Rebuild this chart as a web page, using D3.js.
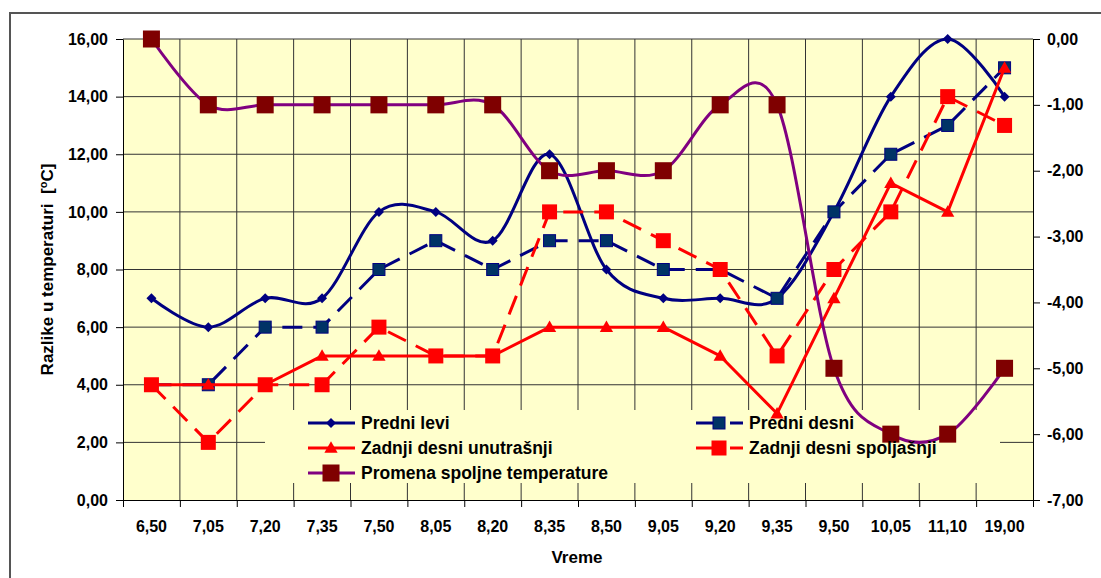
<!DOCTYPE html>
<html>
<head>
<meta charset="utf-8">
<script src="https://cdn.jsdelivr.net/npm/d3@7"></script>
<style>
  body { margin: 0; background: #fff; }
  svg { display: block; font-family: "Liberation Sans", Arial, sans-serif; }
  .axis text { font-size: 16px; font-weight: bold; fill: #000; }
  .axis path, .axis line { stroke: #000; }
</style>
</head>
<body>
<div id="chart"></div>
<script>
// Data
const categories = ["6,50", "7,05", "7,20", "7,35", "7,50", "8,05", "8,20", "8,35",
  "8,50", "9,05", "9,20", "9,35", "9,50", "10,05", "11,10", "19,00"];
const prednjiLevi = [7, 6, 7, 7, 10, 10, 9, 12, 8, 7, 7, 7, 10, 14, 16, 14];
const prednjiDesni = [4, 4, 6, 6, 8, 9, 8, 9, 9, 8, 8, 7, 10, 12, 13, 15];
const zadnjiUnutrasnji = [4, 4, 4, 5, 5, 5, 5, 6, 6, 6, 5, 3, 7, 11, 10, 15];
const zadnjiSpoljasnji = [4, 2, 4, 4, 6, 5, 5, 10, 10, 9, 8, 5, 8, 10, 14, 13];
const promenaSpoljne = [0, -1, -1, -1, -1, -1, -1, -2, -2, -2, -1, -1, -5, -6, -6, -5];
const leftTicks = [0, 2, 4, 6, 8, 10, 12, 14, 16];
const rightTicks = [-7, -6, -5, -4, -3, -2, -1, 0];

const seriesNames = ["Predni levi", "Predni desni", "Zadnji desni unutrašnji",
  "Zadnji desni spoljašnji", "Promena spoljne temperature"];

const width = 1101, height = 578;
const plot = { left: 123, right: 1033, top: 39, bottom: 500 };

const fmt = (d) => d.toFixed(2).replace(".", ",");

const svg = d3.select("#chart").append("svg")
  .attr("width", width)
  .attr("height", height);

// outer chart frame
svg.append("rect")
  .attr("x", 10).attr("y", 13)
  .attr("width", 1110).attr("height", 600)
  .attr("fill", "none")
  .attr("stroke", "#555")
  .attr("stroke-width", 2);

// scales
const x = d3.scaleBand().domain(categories).range([plot.left, plot.right]).padding(0);
const xb = d3.scaleLinear().domain([0, categories.length]).range([plot.left, plot.right]);
const yL = d3.scaleLinear().domain([0, 16]).range([plot.bottom, plot.top]);
const yR = d3.scaleLinear().domain([-7, 0]).range([plot.bottom, plot.top]);
const cx = (i) => x(categories[i]) + x.bandwidth() / 2;

// plot background
svg.append("rect")
  .attr("x", plot.left).attr("y", plot.top)
  .attr("width", plot.right - plot.left)
  .attr("height", plot.bottom - plot.top)
  .attr("fill", "#FFFFCC");

// gridlines
const grid = svg.append("g").attr("stroke", "#333").attr("stroke-width", 1);
grid.selectAll(".hg").data(leftTicks.slice(1)).enter().append("line")
  .attr("x1", plot.left).attr("x2", plot.right)
  .attr("y1", (d) => yL(d)).attr("y2", (d) => yL(d));
grid.selectAll(".vg").data(d3.range(1, categories.length)).enter().append("line")
  .attr("x1", (d) => xb(d)).attr("x2", (d) => xb(d))
  .attr("y1", plot.top).attr("y2", plot.bottom);

// legend box (hides gridlines, series drawn over it)
const legendBox = { x: 265, y: 410, w: 735, h: 73 };
svg.append("rect")
  .attr("x", legendBox.x).attr("y", legendBox.y)
  .attr("width", legendBox.w).attr("height", legendBox.h)
  .attr("fill", "#FFFFCC");

// axes
svg.append("g").attr("class", "axis")
  .attr("transform", `translate(${plot.left},0)`)
  .call(d3.axisLeft(yL).tickValues(leftTicks).tickFormat(fmt).tickSizeInner(7).tickSizeOuter(0).tickPadding(8));

svg.append("g").attr("class", "axis")
  .attr("transform", `translate(${plot.right},0)`)
  .call(d3.axisRight(yR).tickValues(rightTicks).tickFormat(fmt).tickSizeInner(7).tickSizeOuter(0).tickPadding(7));

svg.append("g").attr("class", "axis")
  .attr("transform", `translate(0,${plot.bottom})`)
  .call(d3.axisBottom(xb).tickValues(d3.range(0, categories.length + 1)).tickFormat("").tickSizeInner(7).tickSizeOuter(0));

const xLabels = svg.append("g").attr("class", "axis")
  .attr("transform", `translate(0,${plot.bottom})`)
  .call(d3.axisBottom(x).tickSize(0).tickPadding(21));
xLabels.select(".domain").remove();

// axis titles
svg.append("text")
  .attr("x", (plot.left + plot.right) / 2 - 1)
  .attr("y", 563)
  .attr("text-anchor", "middle")
  .style("font-size", "17px")
  .style("font-weight", "bold")
  .text("Vreme");

const yTitle = svg.append("text")
  .attr("transform", `translate(53,${(plot.top + plot.bottom) / 2}) rotate(-90)`)
  .attr("text-anchor", "middle")
  .style("font-size", "17px")
  .style("font-weight", "bold");
yTitle.append("tspan").text("Razlike u temperaturi \u00A0[");
yTitle.append("tspan").attr("dy", -6).style("font-size", "11px").text("o");
yTitle.append("tspan").attr("dy", 6).text("C]");

// marker helpers
function drawMarker(g, type, px, py, size, fill, stroke) {
  if (type === "diamond") {
    const r = size / 2;
    g.append("path")
      .attr("d", `M${px},${py - r}L${px + r},${py}L${px},${py + r}L${px - r},${py}Z`)
      .attr("fill", fill);
  } else if (type === "triangle") {
    g.append("path")
      .attr("transform", `translate(${px},${py + 1})`)
      .attr("d", d3.symbol().type(d3.symbolTriangle).size(size * size * 0.45)())
      .attr("fill", fill);
  } else {
    g.append("rect")
      .attr("x", px - size / 2).attr("y", py - size / 2)
      .attr("width", size).attr("height", size)
      .attr("fill", fill)
      .attr("stroke", stroke || "none")
      .attr("stroke-width", stroke ? 1 : 0);
  }
}

const series = [
  { name: seriesNames[0], values: prednjiLevi, y: yL, color: "#000080", dash: null, smooth: true,
    marker: "diamond", msize: 10, mfill: "#000080" },
  { name: seriesNames[1], values: prednjiDesni, y: yL, color: "#000080", dash: "20,11", smooth: false,
    marker: "square", msize: 12, mfill: "#003366", mstroke: "#000080" },
  { name: seriesNames[2], values: zadnjiUnutrasnji, y: yL, color: "#FF0000", dash: null, smooth: false,
    marker: "triangle", msize: 13, mfill: "#FF0000" },
  { name: seriesNames[3], values: zadnjiSpoljasnji, y: yL, color: "#FF0000", dash: "20,11", smooth: false,
    marker: "square", msize: 15, mfill: "#FF0000" },
  { name: seriesNames[4], values: promenaSpoljne, y: yR, color: "#800080", dash: null, smooth: true,
    marker: "square", msize: 17, mfill: "#7F0000" },
];

series.forEach((s) => {
  const g = svg.append("g");
  const line = d3.line()
    .x((d, i) => cx(i))
    .y((d) => s.y(d))
    .curve(s.smooth ? d3.curveCatmullRom.alpha(0) : d3.curveLinear);
  g.append("path")
    .datum(s.values)
    .attr("d", line)
    .attr("fill", "none")
    .attr("stroke", s.color)
    .attr("stroke-width", 3)
    .attr("stroke-dasharray", s.dash)
    .attr("stroke-linejoin", "round");
  s.values.forEach((v, i) => drawMarker(g, s.marker, cx(i), s.y(v), s.msize, s.mfill, s.mstroke));
});

// legend entries: two columns, filled row by row
const legendPos = [
  { x: 308, y: 423 }, { x: 696, y: 423 },
  { x: 308, y: 448 }, { x: 696, y: 448 },
  { x: 308, y: 473 },
];
series.forEach((s, i) => {
  const p = legendPos[i];
  const g = svg.append("g");
  g.append("line")
    .attr("x1", p.x).attr("x2", p.x + 47)
    .attr("y1", p.y).attr("y2", p.y)
    .attr("stroke", s.color)
    .attr("stroke-width", 3)
    .attr("stroke-dasharray", s.dash ? "24,10" : null);
  drawMarker(g, s.marker, p.x + 23, p.y, s.msize, s.mfill, s.mstroke);
  g.append("text")
    .attr("x", p.x + 53)
    .attr("y", p.y + 6)
    .style("font-size", "17.5px")
    .style("font-weight", "bold")
    .text(s.name);
});
</script>
</body>
</html>
